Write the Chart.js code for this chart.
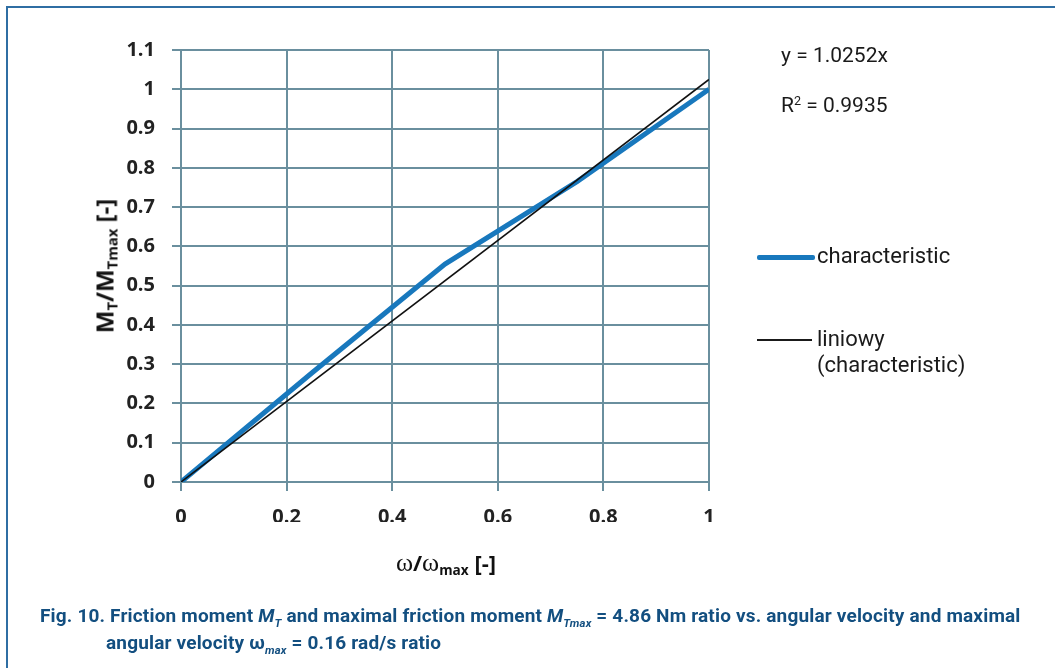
<!DOCTYPE html>
<html>
<head>
<meta charset="utf-8">
<script src="https://cdn.jsdelivr.net/npm/chart.js@4/dist/chart.umd.min.js"></script>
<style>
  html, body { margin: 0; padding: 0; background: #fff; overflow: hidden; }
  #wrap { position: relative; width: 1055px; height: 668px; }
  #frame { position: absolute; left: 6px; top: 6px; width: 1100px; height: 700px; border: 2px solid #2f6ea3; box-sizing: border-box; }
  canvas { position: absolute; left: 0; top: 0; }
  .ovl { position: absolute; white-space: nowrap; color: #1a1a1a; }
  #ytitle { left: 104px; top: 266px; transform: translate(-50%, -50%) rotate(-90deg); font: bold 24px "Open Sans", sans-serif; color: #111; }
  #ytitle sub, #xtitle sub { font-size: 0.62em; vertical-align: -0.3em; line-height: 0; }
  #xtitle { left: 446px; top: 562px; transform: translate(-50%, -50%); font: bold 22px "Open Sans", sans-serif; color: #111; }
  #xtitle .w { font-family: "Liberation Serif", "DejaVu Serif", serif; font-weight: normal; font-size: 26px; }
  .side { font: 21px Roboto, sans-serif; color: #1a1a1a; }
  .side sup { font-size: 0.6em; vertical-align: 0.55em; line-height: 0; }
  .swatch { position: absolute; height: 0; }
  #caption { left: 40px; top: 602px; font: bold 19px Roboto, sans-serif; color: #134f80; line-height: 27px; letter-spacing: 0.17px; }
  #caption sub { font-size: 0.6em; font-style: italic; vertical-align: -0.45em; line-height: 0; }
  #caption i { font-style: italic; }
</style>
</head>
<body>
<div id="wrap">
  <div id="frame"></div>
  <canvas id="chart" width="1055" height="668"></canvas>
  <div class="ovl" id="ytitle">M<sub>T</sub>/M<sub>Tmax</sub> [-]</div>
  <div class="ovl" id="xtitle"><span class="w">ω</span>/<span class="w">ω</span><sub>max</sub> [-]</div>
  <div class="ovl side" style="left:781px; top:43px;">y = 1.0252x</div>
  <div class="ovl side" style="left:781px; top:93px;">R<sup>2</sup> = 0.9935</div>
  <div class="swatch" style="left:757px; top:255px; width:58px; border-top:5px solid #1878bd; border-radius:2px;"></div>
  <div class="ovl side" style="left:817px; top:243px; font-size:22px;">characteristic</div>
  <div class="swatch" style="left:757px; top:339px; width:55px; border-top:2px solid #1a1a1a;"></div>
  <div class="ovl side" style="left:817px; top:326px; line-height:26px; font-size:22px;">liniowy<br>(characteristic)</div>
  <div class="ovl" id="caption">Fig. 10. Friction moment <i>M</i><sub>T</sub> and maximal friction moment <i>M</i><sub>Tmax</sub> = 4.86 Nm ratio vs. angular velocity and maximal<br><span style="padding-left:66px">angular velocity ω<sub>max</sub> = 0.16 rad/s ratio</span></div>
</div>
<script>
const omegaRatio = [0, 0.25, 0.5, 0.75, 1];
const momentRatio = [0, 0.28, 0.555, 0.765, 1];

// linear trend (y = 1.0252x) end points
const trendX = [0, 1];
const trendY = [0, 1.0252];

const xTickValues = [0, 0.2, 0.4, 0.6, 0.8, 1];
const yTickValues = [0, 0.1, 0.2, 0.3, 0.4, 0.5, 0.6, 0.7, 0.8, 0.9, 1, 1.1];

const gridColor = '#6a8f9e';
const tickFont = { family: '"Open Sans", sans-serif', size: 20, weight: 'bold' };

function toPoints(xs, ys) {
  return xs.map(function(x, i) { return { x: x, y: ys[i] }; });
}
function fmt(v) {
  return String(Number(v.toFixed(2)));
}

new Chart(document.getElementById('chart'), {
  type: 'line',
  data: {
    datasets: [
      {
        label: 'liniowy (characteristic)',
        data: toPoints(trendX, trendY),
        borderColor: '#111111',
        borderWidth: 1.6,
        pointRadius: 0,
        order: 0
      },
      {
        label: 'characteristic',
        data: toPoints(omegaRatio, momentRatio),
        borderColor: '#1878bd',
        borderWidth: 5,
        pointRadius: 0,
        order: 1
      }
    ]
  },
  options: {
    responsive: false,
    animation: false,
    layout: { padding: { left: 81, top: 50, right: 346, bottom: 146 } },
    plugins: { legend: { display: false }, tooltip: { enabled: false } },
    scales: {
      x: {
        type: 'linear',
        min: 0,
        max: 1,
        afterBuildTicks: function(scale) { scale.ticks = xTickValues.map(function(v) { return { value: v }; }); },
        afterFit: function(scale) { scale.height = 40; },
        ticks: { color: '#222', font: tickFont, padding: 14, maxRotation: 0, callback: function(v) { return fmt(v); } },
        grid: { color: gridColor, lineWidth: 2, tickLength: 9 },
        border: { color: gridColor, width: 2 }
      },
      y: {
        min: 0,
        max: 1.1,
        afterBuildTicks: function(scale) { scale.ticks = yTickValues.map(function(v) { return { value: v }; }); },
        afterFit: function(scale) { scale.width = 100; },
        ticks: { color: '#222', font: tickFont, padding: 17, callback: function(v) { return fmt(v); } },
        grid: { color: gridColor, lineWidth: 2, tickLength: 9 },
        border: { color: gridColor, width: 2 }
      }
    }
  }
});
</script>
</body>
</html>
